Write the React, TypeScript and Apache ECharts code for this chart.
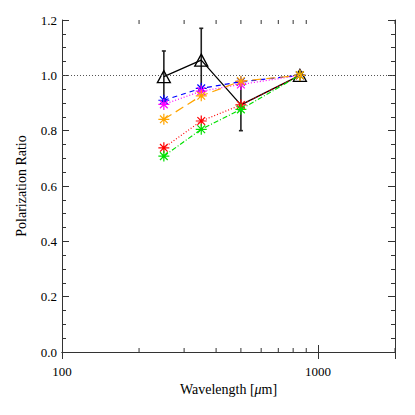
import { useEffect, useRef } from "react";
import * as echarts from "echarts";

const wavelengths = [250, 350, 500, 850];
const blueRatio = [0.91, 0.953, 0.977, 1.0];
const magentaRatio = [0.895, 0.943, 0.967, 1.0];
const orangeRatio = [0.841, 0.926, 0.979, 1.0];
const redRatio = [0.738, 0.835, 0.893, 1.0];
const greenRatio = [0.708, 0.805, 0.877, 1.0];
const blackRatio = [0.995, 1.055, 0.893, 1.0];
const blackErrLow = [0.905, 0.945, 0.8, 1.0];
const blackErrHigh = [1.088, 1.17, 0.98, 1.0];
const minorXTicks = [200, 300, 400, 500, 600, 700, 800, 900, 2000];
const xLabels = [100, 1000];

const FONT = "Liberation Serif, DejaVu Serif, serif";
const AXIS_COLOR = "#333";
const STAR =
  "path://M0,5 L10,5 M5,0 L5,10 M1.5,1.5 L8.5,8.5 M1.5,8.5 L8.5,1.5";

function pairs(values: number[]) {
  return wavelengths.map((w, i) => [w, values[i]]);
}

function starSeries(name: string, values: number[], color: string, dash: number[] | string) {
  return {
    name,
    type: "line" as const,
    data: pairs(values),
    symbol: STAR,
    symbolSize: 11,
    itemStyle: { color: "none", borderColor: color, borderWidth: 1.2 },
    lineStyle: { color, width: 1.2, type: dash },
    z: 3,
  };
}

export default function App() {
  const chartRef = useRef<HTMLDivElement>(null);

  useEffect(() => {
    if (!chartRef.current) return;
    const chart = echarts.init(chartRef.current, null, { renderer: "svg" });

    const option: echarts.EChartsOption = {
      animation: false,
      backgroundColor: "#fff",
      textStyle: { fontFamily: FONT },
      grid: { left: 62, top: 20, width: 333, height: 332 },
      xAxis: [
        {
          type: "log",
          logBase: 10,
          min: 100,
          max: 2000,
          name: "Wavelength [{i|μ}m]",
          nameLocation: "middle",
          nameGap: 29,
          nameTextStyle: {
            fontFamily: FONT,
            fontSize: 14,
            color: "#000",
            rich: { i: { fontStyle: "italic", fontFamily: FONT, fontSize: 14, color: "#000" } },
          },
          axisLine: { show: true, lineStyle: { color: AXIS_COLOR, width: 1 } },
          axisTick: { inside: true, length: 7, lineStyle: { color: AXIS_COLOR } },
          axisLabel: {
            fontFamily: FONT,
            fontSize: 13,
            color: "#000",
            margin: 13,
            formatter: (v: number) => (xLabels.includes(Math.round(v)) ? String(Math.round(v)) : ""),
          },
          splitLine: { show: false },
          minorTick: { show: false },
        },
        {
          type: "log",
          logBase: 10,
          min: 100,
          max: 2000,
          position: "top",
          axisLine: { show: true, lineStyle: { color: AXIS_COLOR, width: 1 } },
          axisTick: { inside: true, length: 7, lineStyle: { color: AXIS_COLOR } },
          axisLabel: { show: false },
          splitLine: { show: false },
        },
      ],
      yAxis: [
        {
          type: "value",
          min: 0,
          max: 1.2,
          interval: 0.2,
          name: "Polarization Ratio",
          nameLocation: "middle",
          nameGap: 34,
          nameTextStyle: { fontFamily: FONT, fontSize: 14, color: "#000" },
          axisLine: { show: true, lineStyle: { color: AXIS_COLOR, width: 1 } },
          axisTick: { inside: true, length: 7, lineStyle: { color: AXIS_COLOR } },
          minorTick: { show: true, splitNumber: 4, length: 4, lineStyle: { color: AXIS_COLOR } },
          axisLabel: {
            fontFamily: FONT,
            fontSize: 13,
            color: "#000",
            margin: 5,
            formatter: (v: number) => v.toFixed(1),
          },
          splitLine: { show: false },
        },
        {
          type: "value",
          min: 0,
          max: 1.2,
          interval: 0.2,
          position: "right",
          axisLine: { show: true, lineStyle: { color: AXIS_COLOR, width: 1 } },
          axisTick: { inside: true, length: 7, lineStyle: { color: AXIS_COLOR } },
          minorTick: { show: true, splitNumber: 4, length: 4, lineStyle: { color: AXIS_COLOR } },
          axisLabel: { show: false },
          splitLine: { show: false },
        },
      ],
      series: [
        {
          type: "custom",
          name: "minor x ticks",
          silent: true,
          data: minorXTicks.map((v) => [v, 0]),
          renderItem: (_params: any, api: any) => {
            const bottom = api.coord([api.value(0), 0]);
            const top = api.coord([api.value(0), 1.2]);
            const style = { stroke: AXIS_COLOR, lineWidth: 1 };
            return {
              type: "group",
              children: [
                { type: "line", shape: { x1: bottom[0], y1: bottom[1], x2: bottom[0], y2: bottom[1] - 4 }, style },
                { type: "line", shape: { x1: top[0], y1: top[1], x2: top[0], y2: top[1] + 4 }, style },
              ],
            };
          },
          z: 1,
        },
        {
          type: "custom",
          name: "error bars",
          silent: true,
          data: wavelengths.map((w, i) => [w, blackErrLow[i], blackErrHigh[i]]).filter((d) => d[2] > d[1]),
          renderItem: (_params: any, api: any) => {
            const lo = api.coord([api.value(0), api.value(1)]);
            const hi = api.coord([api.value(0), api.value(2)]);
            const style = { stroke: "#222", lineWidth: 1.6 };
            return {
              type: "group",
              children: [
                { type: "line", shape: { x1: lo[0], y1: lo[1], x2: hi[0], y2: hi[1] }, style },
                { type: "line", shape: { x1: lo[0] - 2, y1: lo[1], x2: lo[0] + 2, y2: lo[1] }, style },
                { type: "line", shape: { x1: hi[0] - 2, y1: hi[1], x2: hi[0] + 2, y2: hi[1] }, style },
              ],
            };
          },
          z: 2,
        },
        {
          name: "Black",
          type: "line",
          data: pairs(blackRatio).map((d, i) => (i === 2 ? { value: d, symbol: "none" } : d)),
          symbol: "triangle",
          symbolSize: [13, 12],
          itemStyle: { color: "none", borderColor: "#000", borderWidth: 1.3 },
          lineStyle: { color: "#000", width: 1.3, type: "solid" },
          markLine: {
            silent: true,
            symbol: "none",
            label: { show: false },
            lineStyle: { color: "#555", width: 1, type: [1, 2] },
            data: [{ yAxis: 1 }],
          },
          z: 2,
        },
        starSeries("Blue", blueRatio, "#0000ff", [5, 4]),
        starSeries("Magenta", magentaRatio, "#ff00ff", [1, 2]),
        starSeries("Red", redRatio, "#ff0000", [1, 2]),
        starSeries("Green", greenRatio, "#00e000", [5, 2, 1, 2]),
        starSeries("Orange", orangeRatio, "#ffa500", [9, 5]),
      ],
    };

    chart.setOption(option);
    return () => chart.dispose();
  }, []);

  return (
    <div
      ref={chartRef}
      style={{ position: "absolute", left: 0, top: 0, width: 415, height: 415 }}
    />
  );
}
